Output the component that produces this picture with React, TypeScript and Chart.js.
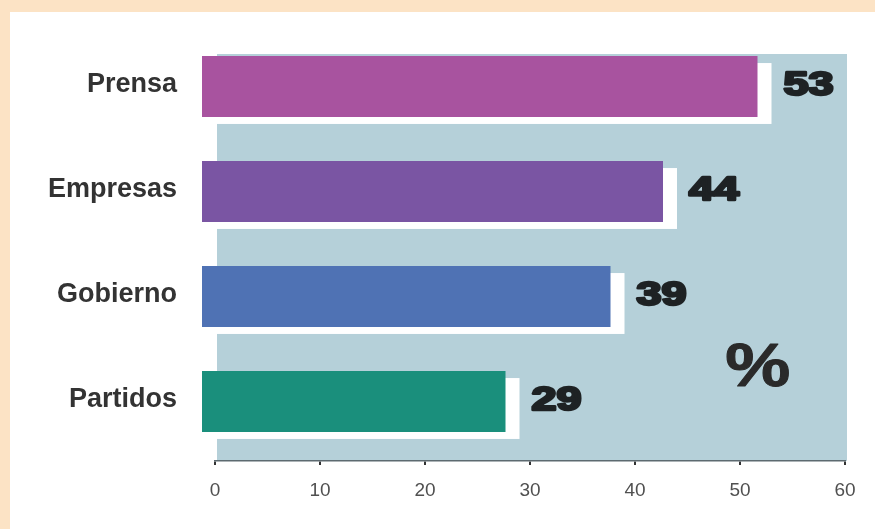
import { useEffect, useRef } from "react";
import { Chart, registerables } from "chart.js";

Chart.register(...registerables);

const categories: string[] = ["Prensa", "Empresas", "Gobierno", "Partidos"];
const values: number[] = [53, 44, 39, 29];
const barColors: string[] = ["#a8539f", "#7a55a3", "#4f72b4", "#1a8f7c"];
const xTickValues: number[] = [0, 10, 20, 30, 40, 50, 60];
const unitLabel = "%";

const SHIFT_X = -14;
const SHIFT_Y = -7;

function wideText(ctx: any, text: string, x: number, y: number, sx: number, stroke: number) {
  ctx.save();
  ctx.translate(x, y);
  ctx.scale(sx, 1);
  ctx.fillText(text, 0, 0);
  if (stroke > 0) {
    ctx.lineWidth = stroke;
    ctx.strokeText(text, 0, 0);
  }
  ctx.restore();
}

const decorPlugin = {
  id: "decor",
  beforeDraw(chart: any) {
    const { ctx, width, height, chartArea, scales } = chart;
    ctx.save();
    ctx.fillStyle = "#fce3c5";
    ctx.fillRect(0, 0, width, height);
    ctx.fillStyle = "#ffffff";
    ctx.fillRect(10, 12, width - 10, height - 12);
    const x0 = scales.x.getPixelForValue(xTickValues[0]) + 2;
    const x1 = scales.x.getPixelForValue(xTickValues[xTickValues.length - 1]) + 2;
    ctx.fillStyle = "#b5d0d9";
    ctx.fillRect(x0, chartArea.top + 13, x1 - x0, chartArea.bottom - chartArea.top - 13);
    ctx.restore();
  },
  beforeDatasetsDraw(chart: any) {
    const { ctx } = chart;
    const meta = chart.getDatasetMeta(0);
    ctx.save();
    ctx.fillStyle = "#ffffff";
    meta.data.forEach((el: any) => {
      const p = el.getProps(["x", "y", "base", "height"], true);
      ctx.fillRect(p.base, p.y - p.height / 2, p.x - p.base, p.height);
    });
    ctx.restore();
  },
  beforeDatasetDraw(chart: any) {
    chart.ctx.save();
    chart.ctx.translate(SHIFT_X, SHIFT_Y);
  },
  afterDatasetDraw(chart: any) {
    chart.ctx.restore();
  },
  afterDatasetsDraw(chart: any) {
    const { ctx, chartArea, scales } = chart;
    const meta = chart.getDatasetMeta(0);
    ctx.save();
    ctx.textBaseline = "middle";
    ctx.lineJoin = "round";
    meta.data.forEach((el: any, i: number) => {
      const p = el.getProps(["x", "y"], true);
      ctx.fillStyle = "#1e2224";
      ctx.strokeStyle = "#1e2224";
      ctx.textAlign = "left";
      ctx.font = "bold 33px 'Liberation Sans'";
      wideText(ctx, String(values[i]), p.x + 12, p.y - 8, 1.36, 2.6);
      ctx.fillStyle = "#333333";
      ctx.textAlign = "right";
      ctx.font = "bold 27px 'Liberation Sans'";
      ctx.fillText(categories[i], chartArea.left - 38, p.y - 9);
    });
    ctx.fillStyle = "#2a2a2a";
    ctx.strokeStyle = "#2a2a2a";
    ctx.textAlign = "center";
    ctx.font = "bold 62px 'Liberation Sans'";
    const px = scales.x.getPixelForValue(51.7);
    const py = scales.y.getPixelForValue(2.62);
    wideText(ctx, unitLabel, px, py, 1.18, 1);
    ctx.restore();
  },
};

export default function App() {
  const canvasRef = useRef<HTMLCanvasElement | null>(null);

  useEffect(() => {
    if (!canvasRef.current) return;
    const chart = new Chart(canvasRef.current, {
      type: "bar",
      data: {
        labels: categories,
        datasets: [
          {
            data: values,
            backgroundColor: barColors,
            borderWidth: 0,
            barPercentage: 0.58,
            categoryPercentage: 1,
            clip: false as any,
          },
        ],
      },
      options: {
        indexAxis: "y",
        animation: false,
        responsive: true,
        maintainAspectRatio: false,
        layout: { padding: { top: 41, right: 30, left: 0, bottom: 0 } },
        plugins: {
          legend: { display: false },
          tooltip: { enabled: false },
        },
        scales: {
          x: {
            min: xTickValues[0],
            max: xTickValues[xTickValues.length - 1],
            afterFit: (s: any) => {
              s.height = 68;
            },
            afterBuildTicks: (s: any) => {
              s.ticks = xTickValues.map((v) => ({ value: v }));
            },
            ticks: {
              padding: 14,
              color: "#505050",
              font: { family: "'Liberation Sans'", size: 19 },
            },
            grid: {
              drawOnChartArea: false,
              drawTicks: true,
              tickLength: 4,
              tickColor: "#333333",
              lineWidth: 2,
            },
            border: { display: true, color: "#5d6a70", width: 1.5 },
          },
          y: {
            afterFit: (s: any) => {
              s.width = 215;
            },
            ticks: { display: false },
            grid: { display: false },
            border: { display: false },
          },
        },
      },
      plugins: [decorPlugin],
    });
    return () => chart.destroy();
  }, []);

  return (
    <div style={{ position: "absolute", left: 0, top: 0, width: 875, height: 529 }}>
      <canvas ref={canvasRef} />
    </div>
  );
}
